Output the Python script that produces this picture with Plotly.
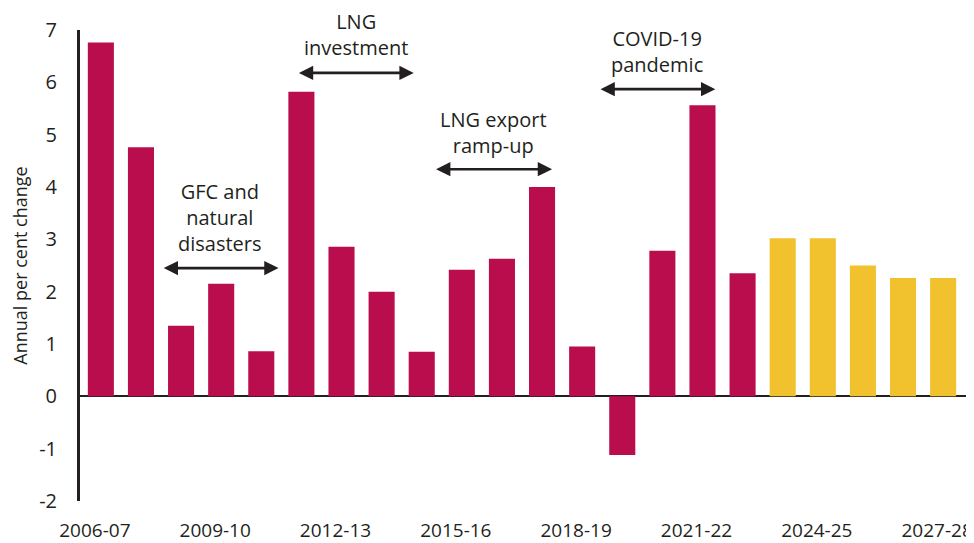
import plotly.graph_objects as go

categories = ["2006-07", "2007-08", "2008-09", "2009-10", "2010-11", "2011-12",
              "2012-13", "2013-14", "2014-15", "2015-16", "2016-17", "2017-18",
              "2018-19", "2019-20", "2020-21", "2021-22", "2022-23", "2023-24",
              "2024-25", "2025-26", "2026-27", "2027-28"]
growth = [6.76, 4.76, 1.35, 2.15, 0.86, 5.82, 2.86, 2.0, 0.85, 2.42, 2.63, 4.0,
          0.95, -1.12, 2.78, 5.56, 2.35, 3.02, 3.02, 2.5, 2.26, 2.26]
is_forecast = [False] * 17 + [True] * 5
tick_labels = ["2006-07", "2009-10", "2012-13", "2015-16", "2018-19",
               "2021-22", "2024-25", "2027-28"]
y_ticks = [-2, -1, 0, 1, 2, 3, 4, 5, 6, 7]
y_tick_text = ["-2", "-1", "0", "1", "2", "3", "4", "5", "6", "7"]

CRIMSON = "#B90D4E"
GOLD = "#F1C12E"
INK = "#231F20"
FONT = "Open Sans"

colors = [GOLD if f else CRIMSON for f in is_forecast]

fig = go.Figure(go.Bar(x=categories, y=growth, marker=dict(color=colors, line=dict(width=0)),
                       width=0.65))

# annotation events: (text, x_start, x_end, y_arrow, y_text_centre)
events = [
    ("GFC and<br>natural<br>disasters", 1.53, 4.43, 2.45, 3.42),
    ("LNG<br>investment", 4.9, 7.8, 6.18, 6.92),
    ("LNG export<br>ramp-up", 8.32, 11.25, 4.34, 5.05),
    ("COVID-19<br>pandemic", 12.42, 15.32, 5.87, 6.59),
]
annotations = []
for text, x0, x1, ya, yt in events:
    annotations.append(dict(x=x1, y=ya, ax=x0, ay=ya, xref="x", yref="y",
                            axref="x", ayref="y", text="", showarrow=True,
                            arrowhead=2, arrowside="end+start", arrowsize=1.1,
                            arrowwidth=2.6, arrowcolor=INK, standoff=0, startstandoff=0))
    annotations.append(dict(x=(x0 + x1) / 2, y=yt, xref="x", yref="y",
                            text=text, showarrow=False, yanchor="middle",
                            font=dict(family=FONT, size=20, color=INK)))

fig.update_layout(
    width=966, height=535,
    margin=dict(l=72, r=4, t=22, b=42),
    plot_bgcolor="white", paper_bgcolor="white",
    showlegend=False,
    annotations=annotations,
    font=dict(family=FONT, color=INK),
    xaxis=dict(type="category", categoryorder="array", categoryarray=categories,
               range=[-0.52, 21.67], tickmode="array", tickvals=tick_labels,
               ticktext=tick_labels, showline=False, showgrid=False, ticks="",
               automargin=False, ticklabelshift=-6,
               tickfont=dict(family=FONT, size=19, color=INK), ticklabelstandoff=16),
    yaxis=dict(range=[-2, 7], tickmode="array", tickvals=y_ticks, ticktext=y_tick_text,
               showgrid=False,
               zeroline=True, zerolinecolor=INK, zerolinewidth=2.2,
               showline=True, linecolor=INK, linewidth=3, ticks="",
               automargin=False,
               tickfont=dict(family=FONT, size=20, color=INK), ticklabelstandoff=16,
               title=dict(text="Annual per cent change", standoff=12,
                          font=dict(family=FONT, size=18, color=INK))),
)

fig.write_html("out.html")
